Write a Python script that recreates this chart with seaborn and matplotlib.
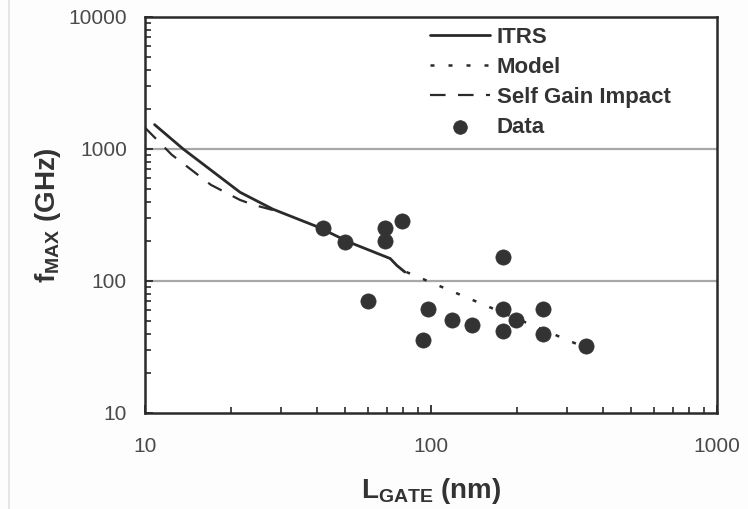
import matplotlib
matplotlib.use("Agg")
import matplotlib.pyplot as plt
import seaborn as sns
import numpy as np
from matplotlib.ticker import FixedLocator, FixedFormatter, LogLocator, NullFormatter
from matplotlib.lines import Line2D

# ---------------- data ----------------
itrs_L = [10.8, 13.6, 21.5, 28, 40, 52, 72, 76, 81]
itrs_f = [1530, 1000, 470, 350, 258, 196, 148, 131, 117]

model_L = [82, 350]
model_f = [117, 31]

sgi_L = [10, 12.4, 17, 21.5, 24, 28]
sgi_f = [1450, 905, 535, 411, 377, 345]

data_L = [42, 50, 69, 69, 79, 60, 178, 98, 94, 118, 139, 178, 178, 198, 247, 247, 348]
data_f = [250, 196, 250, 201, 286, 70, 152, 61.5, 35.7, 50.7, 46.7, 61.5, 42, 50.7, 61.5, 39.7, 31.9]

x_ticks = [10, 100, 1000]
x_tick_labels = ["10", "100", "1000"]
y_ticks = [10, 100, 1000, 10000]
y_tick_labels = ["10", "100", "1000", "10000"]

# ---------------- style ----------------
sns.set_theme(style="ticks")
plt.rcParams["font.family"] = ["Liberation Sans", "DejaVu Sans"]
plt.rcParams["mathtext.fontset"] = "custom"
plt.rcParams["mathtext.rm"] = "Liberation Sans"
plt.rcParams["mathtext.bf"] = "Liberation Sans:bold"

ink = "#2a2a2a"

fig = plt.figure(figsize=(7.48, 5.09), dpi=100)
fig.patch.set_facecolor("#fdfdfd")
ax = fig.add_axes([145 / 748, 1 - 413 / 509, (717 - 145) / 748, (413 - 17) / 509])
ax.set_facecolor("white")

ax.set_xscale("log")
ax.set_yscale("log")
ax.set_xlim(10, 1000)
ax.set_ylim(10, 10000)

# gridlines at 100 and 1000
for g in [100, 1000]:
    ax.axhline(g, color="#a8a8a8", lw=1.6, zorder=0)

sns.lineplot(x=itrs_L, y=itrs_f, ax=ax, color=ink, lw=2.0, label="ITRS",
             sort=False, estimator=None)
sns.lineplot(x=model_L, y=model_f, ax=ax, color=ink, lw=1.8, label="Model",
             sort=False, estimator=None)
ax.lines[-1].set_dashes((1.6, 5.6))
sns.lineplot(x=sgi_L, y=sgi_f, ax=ax, color=ink, lw=1.6, label="Self Gain Impact",
             sort=False, estimator=None)
ax.lines[-1].set_dashes((7.0, 5.6))
sns.scatterplot(x=data_L, y=data_f, ax=ax, color="#333333", s=120, edgecolor="#333333",
                linewidth=0.5, label="Data", zorder=5)

# ticks
ax.xaxis.set_major_locator(FixedLocator(x_ticks))
ax.xaxis.set_major_formatter(FixedFormatter(x_tick_labels))
ax.yaxis.set_major_locator(FixedLocator(y_ticks))
ax.yaxis.set_major_formatter(FixedFormatter(y_tick_labels))
ax.xaxis.set_minor_locator(LogLocator(base=10, subs=np.arange(2, 10)))
ax.yaxis.set_minor_locator(LogLocator(base=10, subs=np.arange(2, 10)))
ax.xaxis.set_minor_formatter(NullFormatter())
ax.yaxis.set_minor_formatter(NullFormatter())
ax.tick_params(axis="both", which="both", direction="in", color=ink,
               top=False, right=False)
ax.tick_params(axis="both", which="major", length=6, width=1.3, labelsize=15,
               labelcolor="#4a4a4a")
ax.tick_params(axis="both", which="minor", length=4.5, width=1.2)
ax.tick_params(axis="x", which="major", pad=17)
ax.tick_params(axis="y", which="major", pad=13)

for sp in ax.spines.values():
    sp.set_color(ink)
    sp.set_linewidth(1.8)
    sp.set_visible(True)

ax.set_xlabel(r"$\mathbf{L}_{\mathbf{GATE}}$ (nm)", fontsize=20, fontweight="bold",
              color="#333333", labelpad=15)
ax.set_ylabel(r"$\mathbf{f}_{\mathbf{MAX}}$ (GHz)", fontsize=20, fontweight="bold",
              color="#333333", labelpad=4)

handles, labels = ax.get_legend_handles_labels()
leg = ax.legend(handles, labels, loc="upper left",
                bbox_to_anchor=(430 / 748, 1 - 27 / 509), bbox_transform=fig.transFigure,
                frameon=False, prop={"size": 16, "weight": "bold"},
                handlelength=2.7, handletextpad=0.3, labelspacing=0.4,
                borderaxespad=0, borderpad=0, markerscale=0.9)
for t in leg.get_texts():
    t.set_color("#333333")

# faint scan border on the left
fig.add_artist(Line2D([9 / 748, 9 / 748], [0, 1], transform=fig.transFigure,
                      color="#e2e2e2", lw=1.2))

fig.savefig("out.png", dpi=100, facecolor=fig.get_facecolor())
